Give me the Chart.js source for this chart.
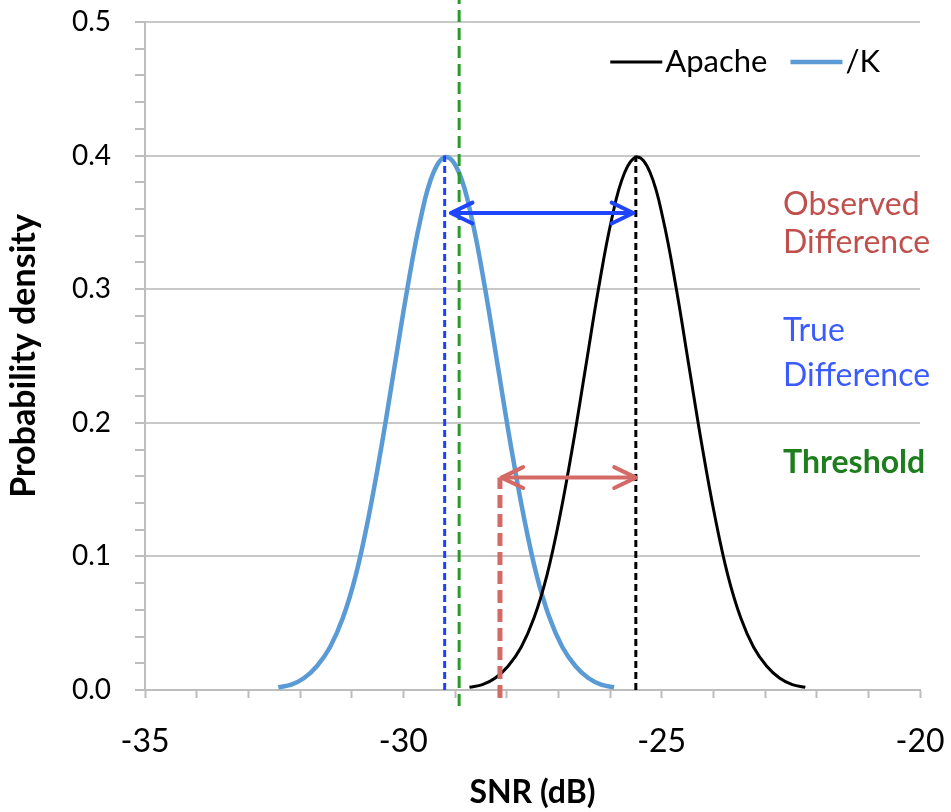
<!DOCTYPE html>
<html>
<head>
<meta charset="utf-8">
<script src="https://cdn.jsdelivr.net/npm/chart.js@4.4.0/dist/chart.umd.min.js"></script>
<style>
  html, body { margin: 0; padding: 0; background: #fff; }
</style>
</head>
<body>
<canvas id="chart" width="951" height="812"></canvas>
<script>
// SNR (dB) samples and density
const kSnr = [-32.42, -32.17, -31.92, -31.67, -31.42, -31.17, -30.92, -30.67, -30.42,
  -30.17, -29.92, -29.67, -29.42, -29.17, -28.92, -28.67, -28.42, -28.17, -27.92,
  -27.67, -27.42, -27.17, -26.92, -26.67, -26.42, -26.17, -25.92];
const kDensity = [0.002, 0.004, 0.009, 0.018, 0.032, 0.054, 0.086, 0.130, 0.183,
  0.242, 0.301, 0.352, 0.387, 0.399, 0.387, 0.352, 0.301, 0.242, 0.183,
  0.130, 0.086, 0.054, 0.032, 0.018, 0.009, 0.004, 0.002];

const apacheSnr = [-28.72, -28.47, -28.22, -27.97, -27.72, -27.47, -27.22, -26.97, -26.72,
  -26.47, -26.22, -25.97, -25.72, -25.47, -25.22, -24.97, -24.72, -24.47, -24.22,
  -23.97, -23.72, -23.47, -23.22, -22.97, -22.72, -22.47, -22.22];
const apacheDensity = [0.002, 0.004, 0.009, 0.018, 0.032, 0.054, 0.086, 0.130, 0.183,
  0.242, 0.301, 0.352, 0.387, 0.399, 0.387, 0.352, 0.301, 0.242, 0.183,
  0.130, 0.086, 0.054, 0.032, 0.018, 0.009, 0.004, 0.002];

// marker lines: [snr, yFrom, yTo]
const kMeanLine = [-29.2, 0, 0.4];
const thresholdLine = [-28.92, -0.012, 0.517];
const observedLine = [-28.13, -0.006, 0.159];
const apacheMeanLine = [-25.5, 0, 0.4];

// arrows: [snrFrom, snrTo, y]
const trueDiffArrow = [-29.08, -25.55, 0.357];
const observedDiffArrow = [-28.1, -25.5, 0.159];

const xTicks = [-35, -30, -25, -20];
const yTicks = [0, 0.1, 0.2, 0.3, 0.4, 0.5];

const notes = [
  { lines: ["Observed", "Difference"], color: "#c0504d", bold: false, x: -22.65, y: [0.363, 0.335] },
  { lines: ["True", "Difference"], color: "#3b5bff", bold: false, x: -22.65, y: [0.269, 0.235] },
  { lines: ["Threshold"], color: "#1e7e1e", bold: true, x: -22.65, y: [0.17] },
];

const pts = (xs, ys) => xs.map((x, i) => ({ x, y: ys[i] }));
const vline = (l) => [{ x: l[0], y: l[1] }, { x: l[0], y: l[2] }];
const hline = (a) => [{ x: a[0], y: a[2] }, { x: a[1], y: a[2] }];

const arrowHeads = {
  id: "arrowHeads",
  afterDatasetsDraw(chart) {
    const ctx = chart.ctx;
    chart.data.datasets.forEach((ds, i) => {
      if (!ds.arrow) return;
      const p = chart.getDatasetMeta(i).data;
      const a = p[0], b = p[p.length - 1];
      ctx.save();
      ctx.strokeStyle = ds.borderColor;
      ctx.lineWidth = ds.borderWidth;
      ctx.lineCap = "round";
      ctx.lineJoin = "round";
      [[a, b], [b, a]].forEach(([tip, from]) => {
        const ang = Math.atan2(tip.y - from.y, tip.x - from.x);
        const len = 24, spread = 0.45;
        ctx.beginPath();
        ctx.moveTo(tip.x - len * Math.cos(ang - spread), tip.y - len * Math.sin(ang - spread));
        ctx.lineTo(tip.x, tip.y);
        ctx.lineTo(tip.x - len * Math.cos(ang + spread), tip.y - len * Math.sin(ang + spread));
        ctx.stroke();
      });
      ctx.restore();
    });
  },
};

const noteText = {
  id: "noteText",
  afterDraw(chart) {
    const ctx = chart.ctx;
    const xs = chart.scales.x, ys = chart.scales.y;
    ctx.save();
    ctx.textBaseline = "middle";
    ctx.textAlign = "left";
    notes.forEach((n) => {
      ctx.fillStyle = n.color;
      ctx.font = (n.bold ? "bold " : "") + "32px Lato";
      n.lines.forEach((t, j) => {
        ctx.fillText(t, xs.getPixelForValue(n.x), ys.getPixelForValue(n.y[j]));
      });
    });
    ctx.restore();
  },
};

// legend drawn inside the plot, top right, from the labelled series
const insideLegend = {
  id: "insideLegend",
  afterDraw(chart) {
    const ctx = chart.ctx;
    const area = chart.chartArea;
    const items = chart.data.datasets.filter((d) => d.inLegend);
    ctx.save();
    ctx.font = "31px Lato";
    ctx.textBaseline = "middle";
    ctx.fillStyle = "#000";
    const lineLen = 52, gap = 3, itemGap = 23;
    const y = area.top + 40;
    let x = area.right - 40;
    items.slice().reverse().forEach((d) => {
      const w = ctx.measureText(d.label).width;
      x -= w;
      ctx.fillText(d.label, x, y);
      x -= gap;
      ctx.strokeStyle = d.borderColor;
      ctx.lineWidth = d.borderWidth;
      ctx.beginPath();
      ctx.moveTo(x - lineLen, y);
      ctx.lineTo(x, y);
      ctx.stroke();
      x -= lineLen + itemGap;
    });
    ctx.restore();
  },
};

const line = (data, color, width, dash, extra) => Object.assign({
  data, borderColor: color, backgroundColor: color, borderWidth: width,
  borderDash: dash || [], pointRadius: 0, showLine: true, fill: false,
}, extra || {});

new Chart(document.getElementById("chart"), {
  type: "scatter",
  data: {
    datasets: [
      line(hline(trueDiffArrow), "#1f45ff", 4, null, { arrow: true, label: "true" }),
      line(hline(observedDiffArrow), "#d46a66", 4, null, { arrow: true, label: "observed" }),
      line(vline(kMeanLine), "#1f3fff", 3, [7, 4], { label: "kmean" }),
      line(vline(thresholdLine), "#2a9a2a", 3, [12, 6], { label: "threshold", clip: false }),
      line(vline(observedLine), "#d46a66", 5, [13, 6], { label: "obs", clip: false }),
      line(vline(apacheMeanLine), "#000000", 3, [7, 4], { label: "amean" }),
      line(pts(apacheSnr, apacheDensity), "#000000", 3, null, { label: "Apache", tension: 0.4, inLegend: true }),
      line(pts(kSnr, kDensity), "#5b9bd5", 4.5, null, { label: "/K", tension: 0.4, inLegend: true }),
    ],
  },
  options: {
    responsive: false,
    animation: false,
    layout: { padding: { top: 22, right: 31, left: 0, bottom: 0 } },
    plugins: {
      tooltip: { enabled: false },
      legend: { display: false },
    },
    scales: {
      x: {
        type: "linear",
        min: xTicks[0],
        max: xTicks[xTicks.length - 1],
        afterFit: (s) => { s.height = 122; s.paddingLeft = 0; s.paddingRight = 0; },
        ticks: {
          stepSize: 1,
          autoSkip: false,
          maxRotation: 0,
          padding: 24,
          color: "#000",
          font: { family: "Lato", size: 32 },
          callback: (v) => (xTicks.includes(v) ? String(v) : ""),
        },
        grid: { drawOnChartArea: false, tickColor: "#bdbdbd", tickLength: 8, tickWidth: 2 },
        border: { color: "#bdbdbd", width: 2 },
        title: {
          display: true,
          text: "SNR (dB)",
          color: "#000",
          font: { family: "Lato", size: 32, weight: "bold" },
          padding: { top: 0, bottom: 0 },
        },
      },
      y: {
        min: yTicks[0],
        max: yTicks[yTicks.length - 1],
        afterFit: (s) => { s.width = 145; s.paddingTop = 0; s.paddingBottom = 0; },
        ticks: {
          stepSize: 0.02,
          autoSkip: false,
          padding: 24,
          color: "#000",
          font: { family: "Lato", size: 28 },
          callback: (v) => {
            const k = Math.round(v * 100);
            return k % 10 === 0 ? (k / 100).toFixed(1) : "";
          },
        },
        grid: {
          color: (c) => (Math.round(c.tick.value * 100) % 10 === 0 ? "#c8c8c8" : "rgba(0,0,0,0)"),
          lineWidth: 2,
          tickColor: "#bdbdbd",
          tickLength: 10,
          tickWidth: 2,
        },
        border: { color: "#bdbdbd", width: 2 },
        title: {
          display: true,
          text: "Probability density",
          color: "#000",
          font: { family: "Lato", size: 34, weight: "bold" },
          padding: { top: 4, bottom: 0 },
        },
      },
    },
  },
  plugins: [arrowHeads, noteText, insideLegend],
});
</script>
</body>
</html>
